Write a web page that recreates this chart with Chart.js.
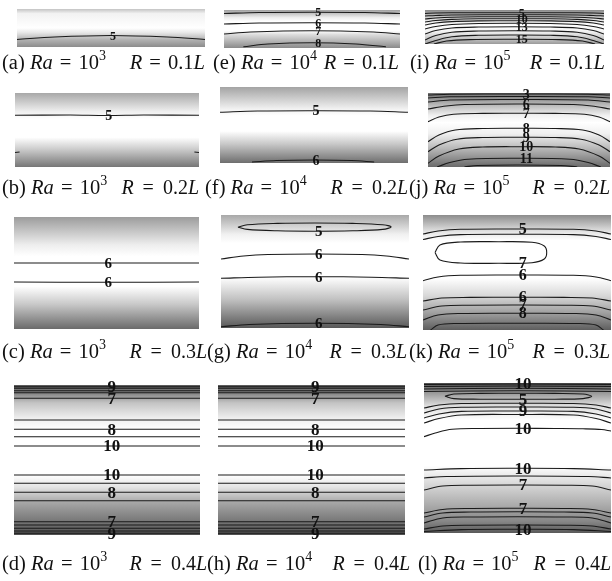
<!DOCTYPE html>
<html>
<head>
<meta charset="utf-8">
<script src="https://cdn.jsdelivr.net/npm/chart.js@4.4.0/dist/chart.umd.min.js"></script>
<style>
body { margin: 0; background: #fff; width: 612px; height: 581px; position: relative; overflow: hidden; font-family: "Liberation Serif", serif; }
canvas { position: absolute; }
.cap { position: absolute; display: flex; justify-content: space-between; align-items: baseline; font-size: 20.5px; line-height: 22px; white-space: nowrap; color: #111; }
.cap sup { font-size: 14px; vertical-align: 9px; line-height: 0; }
.cap .eq { margin: 0 2px; }
.cap .r.small { font-size: 20px; }
.cap .r.small .eq { margin: 0 4px; }
</style>
</head>
<body>
<script>
// caption pieces
var letters = ['a', 'b', 'c', 'd', 'e', 'f', 'g', 'h', 'i', 'j', 'k', 'l'];
var raExp = ['3', '4', '5'];
var rRatio = ['0.1', '0.2', '0.3', '0.4'];

// contour lines: v = level label (null = unlabelled), pts = [x/L, depth from top]
var linesA = [
    { v: '5', pts: [[0, 30.5], [0.2, 28], [0.5, 26.5], [0.8, 28], [1, 30.5]] }
];
var linesE = [
    { v: '5', pts: [[0, 3.5], [0.2, 2.5], [0.5, 2.2], [0.8, 2.5], [1, 3.5]] },
    { v: '6', pts: [[0, 14], [0.2, 13], [0.5, 12.7], [0.8, 13], [1, 14]] },
    { v: '7', pts: [[0, 24], [0.15, 22], [0.5, 20.7], [0.85, 22], [1, 24]] },
    { v: '8', pts: [[0.11, 36.8], [0.25, 34], [0.5, 32.7], [0.75, 34], [0.92, 36.8]] }
];
var linesI = [
    { v: '5', pts: [[0, 3.5], [0.06, 3], [0.15, 2.8], [0.5, 2.7], [0.85, 2.8], [0.94, 3], [1, 3.5]] },
    { v: null, pts: [[0, 6], [0.06, 5.5], [0.15, 5], [0.5, 4.7], [0.85, 5], [0.94, 5.5], [1, 6]] },
    { v: null, pts: [[0, 9], [0.06, 8], [0.15, 7.2], [0.3, 6.8], [0.5, 6.7], [0.7, 6.8], [0.85, 7.2], [0.94, 8], [1, 9]] },
    { v: '10', pts: [[0, 12], [0.06, 10.5], [0.15, 9.4], [0.3, 8.8], [0.5, 8.7], [0.7, 8.8], [0.85, 9.4], [0.94, 10.5], [1, 12]] },
    { v: null, pts: [[0, 15], [0.06, 13], [0.15, 11.6], [0.3, 10.9], [0.5, 10.7], [0.7, 10.9], [0.85, 11.6], [0.94, 13], [1, 15]] },
    { v: null, pts: [[0, 19], [0.06, 16.5], [0.15, 14.5], [0.3, 13.5], [0.5, 13.3], [0.7, 13.5], [0.85, 14.5], [0.94, 16.5], [1, 19]] },
    { v: '13', pts: [[0, 24], [0.06, 20.5], [0.15, 18], [0.3, 17], [0.5, 16.7], [0.7, 17], [0.85, 18], [0.94, 20.5], [1, 24]] },
    { v: null, pts: [[0, 30], [0.06, 25.5], [0.15, 22.2], [0.3, 21], [0.5, 20.7], [0.7, 21], [0.85, 22.2], [0.94, 25.5], [1, 30]] },
    { v: null, pts: [[0, 34], [0.06, 30.5], [0.15, 26.8], [0.3, 25.3], [0.5, 25], [0.7, 25.3], [0.85, 26.8], [0.94, 30.5], [1, 34]] },
    { v: '15', pts: [[0.05, 34], [0.12, 31], [0.25, 29.6], [0.5, 29.3], [0.75, 29.6], [0.88, 31], [0.95, 34]] }
];
var linesB = [
    { v: '5', pts: [[0, 22.3], [0.3, 22], [0.5, 22.5], [0.7, 22], [1, 22.3]] },
    { v: null, pts: [[0, 59.5], [0.025, 59]] },
    { v: null, pts: [[0.975, 59], [1, 59.5]] }
];
var linesF = [
    { v: '5', pts: [[0, 25.3], [0.2, 24], [0.5, 23.7], [0.8, 24], [1, 25.3]] },
    { v: '6', pts: [[0.17, 75], [0.3, 73.5], [0.5, 73], [0.7, 73.5], [0.82, 75]] }
];
var linesJ = [
    { v: '3', pts: [[0, 2], [0.12, 1.2], [0.5, 1], [0.88, 1.2], [1, 2]] },
    { v: null, pts: [[0, 5], [0.12, 3.8], [0.5, 3.5], [0.88, 3.8], [1, 5]] },
    { v: null, pts: [[0, 9], [0.12, 7], [0.5, 6.5], [0.88, 7], [1, 9]] },
    { v: '6', pts: [[0, 16], [0.1, 13], [0.2, 11.5], [0.5, 11], [0.8, 11.5], [0.9, 13], [1, 16]] },
    { v: '7', pts: [[0, 28.7], [0.06, 24], [0.14, 21.2], [0.3, 20.4], [0.5, 20.3], [0.7, 20.4], [0.86, 21.2], [0.94, 24], [1, 28.7]] },
    { v: '8', pts: [[0, 48.7], [0.06, 42], [0.15, 37], [0.3, 35.5], [0.5, 35.3], [0.7, 35.5], [0.85, 37], [0.94, 42], [1, 48.7]] },
    { v: '9', pts: [[0, 58.7], [0.06, 52], [0.16, 46.2], [0.3, 44.5], [0.5, 44.3], [0.7, 44.5], [0.84, 46.2], [0.94, 52], [1, 58.7]] },
    { v: '10', pts: [[0, 70.3], [0.06, 63], [0.17, 56], [0.3, 54], [0.5, 53.7], [0.7, 54], [0.83, 56], [0.94, 63], [1, 70.3]] },
    { v: '11', pts: [[0.05, 74], [0.12, 69.5], [0.22, 66.2], [0.5, 65.3], [0.78, 66.2], [0.88, 69.5], [0.95, 74]] },
    { v: null, pts: [[0.2, 74], [0.27, 72.5], [0.5, 72], [0.73, 72.5], [0.82, 74]] }
];
var linesC = [
    { v: '6', pts: [[0, 46], [0.5, 46], [1, 46]] },
    { v: '6', pts: [[0, 65], [0.5, 65.3], [1, 65]] }
];
var linesG = [
    { v: '5', pts: [[0.09, 12.2], [0.14, 9.8], [0.3, 8.4], [0.5, 8], [0.7, 8.4], [0.86, 9.8], [0.905, 12], [0.86, 14.4], [0.7, 15.8], [0.5, 16.2], [0.3, 15.8], [0.14, 14.4], [0.09, 12.2]] },
    { v: '6', pts: [[0, 44], [0.12, 41], [0.25, 39.5], [0.5, 39], [0.75, 39.5], [0.88, 41], [1, 44]] },
    { v: '6', pts: [[0, 63.3], [0.2, 62.2], [0.5, 61.7], [0.8, 62.2], [1, 63.3]] },
    { v: '6', pts: [[0, 111.8], [0.15, 109.5], [0.5, 108.3], [0.85, 109.5], [1, 111.8]] }
];
var linesK = [
    { v: '5', pts: [[0, 19], [0.08, 16], [0.2, 14.3], [0.5, 14], [0.8, 14.3], [0.92, 16], [1, 19]] },
    { v: null, pts: [[0, 24.5], [0.08, 21.5], [0.2, 19.6], [0.5, 19.3], [0.8, 19.6], [0.92, 21.5], [1, 24.5]] },
    { v: '7', pts: [[0.064, 37.5], [0.09, 30], [0.2, 27], [0.4, 26.7], [0.58, 27.3], [0.645, 31], [0.658, 37.5], [0.645, 44], [0.58, 47.7], [0.4, 48.3], [0.2, 48], [0.09, 45], [0.064, 37.5]] },
    { v: '6', pts: [[0, 65.7], [0.08, 62], [0.2, 60.3], [0.5, 60], [0.8, 60.3], [0.92, 62], [1, 65.7]] },
    { v: '6', pts: [[0, 86], [0.1, 83], [0.25, 82.4], [0.5, 82.3], [0.75, 82.4], [0.9, 83], [1, 86]] },
    { v: '7', pts: [[0, 95], [0.1, 91], [0.25, 90.2], [0.5, 90], [0.75, 90.2], [0.9, 91], [1, 95]] },
    { v: '8', pts: [[0, 105], [0.08, 100], [0.2, 98.5], [0.5, 98.3], [0.8, 98.5], [0.92, 100], [1, 105]] },
    { v: null, pts: [[0.04, 115], [0.08, 110], [0.18, 108.5], [0.5, 108.3], [0.82, 108.5], [0.92, 110], [0.96, 115]] }
];
var linesD = [
    { v: '9', pts: [[0, 1.7], [1, 1.7]] },
    { v: null, pts: [[0, 3.3], [1, 3.3]] },
    { v: null, pts: [[0, 5.7], [1, 5.7]] },
    { v: null, pts: [[0, 7.7], [1, 7.7]] },
    { v: '7', pts: [[0, 13.3], [1, 13.3]] },
    { v: null, pts: [[0, 35], [1, 35]] },
    { v: '8', pts: [[0, 44.3], [1, 44.3]] },
    { v: null, pts: [[0, 51.7], [1, 51.7]] },
    { v: '10', pts: [[0, 61], [1, 61]] },
    { v: '10', pts: [[0, 90], [1, 90]] },
    { v: null, pts: [[0, 98.3], [1, 98.3]] },
    { v: '8', pts: [[0, 107.3], [1, 107.3]] },
    { v: null, pts: [[0, 115.7], [1, 115.7]] },
    { v: '7', pts: [[0, 136.7], [1, 136.7]] },
    { v: null, pts: [[0, 140], [1, 140]] },
    { v: null, pts: [[0, 143.3], [1, 143.3]] },
    { v: null, pts: [[0, 146], [1, 146]] },
    { v: '9', pts: [[0, 148.3], [1, 148.3]] }
];
var linesH = linesD;
var linesL = [
    { v: '10', pts: [[0, 1.5], [0.5, 1], [1, 1.5]] },
    { v: null, pts: [[0, 3.5], [0.5, 3], [1, 3.5]] },
    { v: null, pts: [[0, 6], [0.5, 5.3], [1, 6]] },
    { v: null, pts: [[0, 8.5], [0.5, 7.7], [1, 8.5]] },
    { v: '5', pts: [[0.112, 13.3], [0.16, 11], [0.3, 10.4], [0.5, 10.3], [0.7, 10.4], [0.85, 11], [0.897, 13.3], [0.85, 15.6], [0.7, 16.2], [0.5, 16.3], [0.3, 16.2], [0.16, 15.6], [0.112, 13.3]] },
    { v: null, pts: [[0, 25], [0.08, 22], [0.2, 20.5], [0.5, 20.3], [0.8, 20.5], [0.92, 22], [1, 25]] },
    { v: null, pts: [[0, 30], [0.08, 26], [0.2, 24.3], [0.5, 24], [0.8, 24.3], [0.92, 26], [1, 30]] },
    { v: '9', pts: [[0, 35], [0.08, 31], [0.2, 28.4], [0.5, 28], [0.8, 28.4], [0.92, 31], [1, 35]] },
    { v: null, pts: [[0, 40], [0.08, 35.5], [0.2, 32], [0.5, 31.5], [0.8, 32], [0.92, 35.5], [1, 40]] },
    { v: '10', pts: [[0, 53.7], [0.06, 50], [0.15, 46.3], [0.3, 45.5], [0.5, 45.3], [0.7, 45.5], [0.85, 45.8], [0.95, 46.5], [1, 48]] },
    { v: '10', pts: [[0, 87], [0.2, 85.6], [0.5, 85.3], [0.8, 85.6], [1, 87]] },
    { v: null, pts: [[0, 95], [0.12, 93.5], [0.5, 93], [0.88, 93.5], [1, 95]] },
    { v: '7', pts: [[0, 107], [0.1, 103], [0.25, 102.2], [0.5, 102], [0.75, 102.2], [0.9, 103], [1, 107]] },
    { v: '7', pts: [[0, 130], [0.1, 126.5], [0.25, 125.5], [0.5, 125.3], [0.75, 125.5], [0.9, 126.5], [1, 130]] },
    { v: null, pts: [[0, 134], [0.1, 130], [0.25, 129], [0.5, 128.7], [0.75, 129], [0.9, 130], [1, 134]] },
    { v: null, pts: [[0, 140], [0.1, 135], [0.25, 134], [0.5, 133.7], [0.75, 134], [0.9, 135], [1, 140]] },
    { v: null, pts: [[0, 146], [0.1, 143], [0.25, 142.2], [0.5, 142], [0.75, 142.2], [0.9, 143], [1, 146]] },
    { v: '10', pts: [[0, 148.5], [0.2, 146.6], [0.5, 146.3], [0.8, 146.6], [1, 148.5]] }
];

// panel boxes [left, top, width, height], vertical shading stops, label column and size
var panels = [
    { n: 0, col: 0, row: 0, box: [17, 9, 188, 38], lines: linesA, at: 0.51, fs: 12,
      shade: [[0, '#c4c4c4'], [0.12, '#f2f2f2'], [0.5, '#ffffff'], [0.62, '#e8e8e8'], [0.8, '#b4b4b4'], [1, '#8c8c8c']] },
    { n: 1, col: 0, row: 1, box: [15, 93, 184, 74], lines: linesB, at: 0.51, fs: 14,
      shade: [[0, '#a8a8a8'], [0.25, '#efefef'], [0.35, '#ffffff'], [0.6, '#ffffff'], [0.75, '#cfcfcf'], [1, '#767676']] },
    { n: 2, col: 0, row: 2, box: [14, 217, 185, 112], lines: linesC, at: 0.51, fs: 15,
      shade: [[0, '#9c9c9c'], [0.25, '#eeeeee'], [0.35, '#ffffff'], [0.62, '#ffffff'], [0.78, '#c8c8c8'], [1, '#6a6a6a']] },
    { n: 3, col: 0, row: 3, box: [14, 385, 186, 150], lines: linesD, at: 0.525, fs: 17,
      shade: [[0, '#5a5a5a'], [0.06, '#8a8a8a'], [0.12, '#c4c4c4'], [0.22, '#eeeeee'], [0.3, '#ffffff'], [0.6, '#ffffff'], [0.68, '#e4e4e4'], [0.78, '#a8a8a8'], [0.9, '#7a7a7a'], [1, '#505050']] },
    { n: 4, col: 1, row: 0, box: [224, 10, 176, 38], lines: linesE, at: 0.536, fs: 12,
      shade: [[0, '#a0a0a0'], [0.2, '#eeeeee'], [0.3, '#ffffff'], [0.55, '#ffffff'], [0.65, '#dcdcdc'], [1, '#8a8a8a']] },
    { n: 5, col: 1, row: 1, box: [220, 87, 188, 76], lines: linesF, at: 0.51, fs: 14,
      shade: [[0, '#a4a4a4'], [0.3, '#f4f4f4'], [0.38, '#ffffff'], [0.58, '#ffffff'], [0.75, '#c8c8c8'], [1, '#6e6e6e']] },
    { n: 6, col: 1, row: 2, box: [221, 215, 188, 113], lines: linesG, at: 0.52, fs: 15,
      shade: [[0, '#a8a8a8'], [0.17, '#f0f0f0'], [0.25, '#ffffff'], [0.55, '#ffffff'], [0.75, '#c0c0c0'], [1, '#585858']] },
    { n: 7, col: 1, row: 3, box: [218, 385, 187, 150], lines: linesH, at: 0.52, fs: 17,
      shade: [[0, '#5a5a5a'], [0.06, '#8a8a8a'], [0.12, '#c4c4c4'], [0.22, '#eeeeee'], [0.3, '#ffffff'], [0.6, '#ffffff'], [0.68, '#e4e4e4'], [0.78, '#a8a8a8'], [0.9, '#7a7a7a'], [1, '#505050']] },
    { n: 8, col: 2, row: 0, box: [425, 10, 179, 34], lines: linesI, at: 0.54, fs: 12,
      shade: [[0, '#8a8a8a'], [0.3, '#e6e6e6'], [0.45, '#ffffff'], [0.62, '#f4f4f4'], [0.85, '#c4c4c4'], [1, '#9a9a9a']] },
    { n: 9, col: 2, row: 1, box: [428, 93, 182, 74], lines: linesJ, at: 0.54, fs: 14,
      shade: [[0, '#6e6e6e'], [0.12, '#a8a8a8'], [0.3, '#f0f0f0'], [0.4, '#ffffff'], [0.55, '#f0f0f0'], [0.75, '#b8b8b8'], [1, '#6a6a6a']] },
    { n: 10, col: 2, row: 2, box: [423, 215, 188, 115], lines: linesK, at: 0.53, fs: 16,
      shade: [[0, '#8c8c8c'], [0.15, '#e6e6e6'], [0.22, '#ffffff'], [0.55, '#ffffff'], [0.7, '#d8d8d8'], [0.85, '#a0a0a0'], [1, '#5e5e5e']] },
    { n: 11, col: 2, row: 3, box: [424, 383, 187, 150], lines: linesL, at: 0.53, fs: 17,
      shade: [[0, '#505050'], [0.05, '#8c8c8c'], [0.15, '#dcdcdc'], [0.25, '#ffffff'], [0.55, '#ffffff'], [0.65, '#e0e0e0'], [0.8, '#b0b0b0'], [0.92, '#888888'], [1, '#5a5a5a']] }
];

// caption placement per row: baseline y, [left, right] x per column
var capBase = [69, 194, 358, 570];
var capSpan = [
    [[2, 205], [213, 399], [410, 605]],
    [[2, 199], [205, 408], [409, 610]],
    [[2, 207], [207, 407], [409, 610]],
    [[2, 207], [207, 410], [418, 611]]
];

var pad = 10;

var shading = {
    id: 'shading',
    beforeDatasetsDraw(chart, args, opts) {
        var ctx = chart.ctx;
        var a = chart.chartArea;
        var g = ctx.createLinearGradient(0, a.top, 0, a.bottom);
        opts.stops.forEach(s => g.addColorStop(s[0], s[1]));
        ctx.save();
        ctx.fillStyle = g;
        ctx.fillRect(a.left, a.top, a.right - a.left, a.bottom - a.top);
        ctx.restore();
    }
};

var contourLabels = {
    id: 'contourLabels',
    afterDatasetsDraw(chart, args, opts) {
        var ctx = chart.ctx;
        var px = chart.scales.x.getPixelForValue(opts.at);
        ctx.save();
        ctx.font = 'bold ' + opts.size + 'px "Liberation Serif"';
        ctx.textAlign = 'center';
        ctx.textBaseline = 'middle';
        ctx.fillStyle = '#111';
        chart.data.datasets.forEach((ds, i) => {
            if (!ds.tag) return;
            var pts = chart.getDatasetMeta(i).data;
            var y = null;
            for (var k = 0; k < pts.length - 1; k++) {
                var p = pts[k], q = pts[k + 1];
                if (p.x !== q.x && (px - p.x) * (px - q.x) <= 0) {
                    var yy = p.y + (q.y - p.y) * (px - p.x) / (q.x - p.x);
                    if (y === null || yy > y) y = yy;
                }
            }
            if (y !== null) ctx.fillText(ds.tag, px, y + 1);
        });
        ctx.restore();
    }
};

panels.forEach(p => {
    var c = document.createElement('canvas');
    c.width = p.box[2];
    c.height = p.box[3] + 2 * pad;
    c.style.left = p.box[0] + 'px';
    c.style.top = (p.box[1] - pad) + 'px';
    document.body.appendChild(c);

    new Chart(c, {
        type: 'line',
        data: {
            datasets: p.lines.map(l => ({
                tag: l.v,
                data: l.pts.map(q => ({ x: q[0], y: q[1] })),
                borderColor: '#1a1a1a',
                borderWidth: 1.1,
                pointRadius: 0,
                tension: 0.35,
                fill: false
            }))
        },
        options: {
            responsive: false,
            animation: false,
            events: [],
            layout: { padding: { top: pad, bottom: pad, left: 0, right: 0 } },
            scales: {
                x: { type: 'linear', min: 0, max: 1, display: false },
                y: { type: 'linear', min: 0, max: p.box[3], reverse: true, display: false }
            },
            plugins: {
                legend: { display: false },
                tooltip: { enabled: false },
                shading: { stops: p.shade },
                contourLabels: { at: p.at, size: p.fs }
            }
        },
        plugins: [shading, contourLabels]
    });

    var span = capSpan[p.row][p.col];
    var cap = document.createElement('div');
    cap.className = 'cap';
    cap.style.left = span[0] + 'px';
    cap.style.width = (span[1] - span[0]) + 'px';
    cap.style.top = (capBase[p.row] - 18) + 'px';
    cap.innerHTML = '<span>(' + letters[p.n] + ') <i>Ra</i> <span class="eq">=</span> 10<sup>' + raExp[p.col] + '</sup></span>' +
        '<span class="r' + (p.row > 0 ? ' small' : '') + '"><i>R</i> <span class="eq">=</span> ' + rRatio[p.row] + '<i>L</i></span>';
    document.body.appendChild(cap);
});
</script>
</body>
</html>
